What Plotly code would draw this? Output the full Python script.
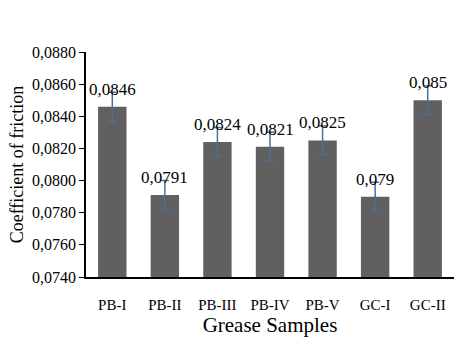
import plotly.graph_objects as go

categories = ["PB-I", "PB-II", "PB-III", "PB-IV", "PB-V", "GC-I", "GC-II"]
values = [0.0846, 0.0791, 0.0824, 0.0821, 0.0825, 0.0790, 0.0850]
errors = [0.0009, 0.0009, 0.0009, 0.0009, 0.0009, 0.0009, 0.0009]
labels = ["0,0846", "0,0791", "0,0824", "0,0821", "0,0825", "0,079", "0,085"]
y_ticks = [0.074, 0.076, 0.078, 0.080, 0.082, 0.084, 0.086, 0.088]

FONT = "Liberation Serif"

fig = go.Figure()
fig.add_trace(go.Bar(
    x=categories, y=values,
    marker=dict(color="#606060", line=dict(width=0)),
    error_y=dict(type="data", array=errors, visible=True,
                 color="#4d6f96", thickness=1.5, width=4),
    width=0.54,
))

for c, v, t in zip(categories, values, labels):
    fig.add_annotation(x=c, y=v, text=t, showarrow=False,
                       yanchor="bottom", yshift=6,
                       font=dict(family=FONT, size=17, color="black"))

fig.update_layout(
    width=474, height=339,
    margin=dict(l=86, r=20, t=52, b=53),
    paper_bgcolor="white", plot_bgcolor="white",
    separators=",.",
    showlegend=False,
    font=dict(family=FONT, size=15, color="black"),
)
fig.update_yaxes(
    range=[0.074, 0.088], tickvals=y_ticks, tickformat=".4f",
    showgrid=False, zeroline=False,
    showline=True, linecolor="black", linewidth=1.5,
    ticks="outside", ticklen=5, tickcolor="black",
    tickfont=dict(family=FONT, size=16),
    title=dict(text="Coefficient of friction", font=dict(family=FONT, size=18), standoff=4),
)
fig.update_xaxes(
    showgrid=False, zeroline=False,
    showline=True, linecolor="black", linewidth=1.5,
    ticks="", ticklabelstandoff=13,
    tickfont=dict(family=FONT, size=15),
    title=dict(text="Grease Samples", font=dict(family=FONT, size=21), standoff=0),
)

fig.write_html("out.html")
